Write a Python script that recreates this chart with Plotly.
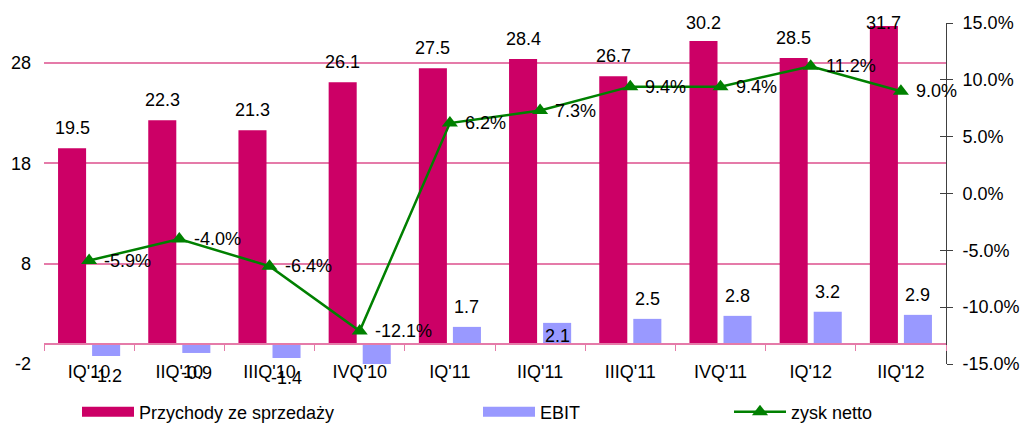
import plotly.graph_objects as go

quarters = ["IQ'10", "IIQ'10", "IIIQ'10", "IVQ'10", "IQ'11", "IIQ'11", "IIIQ'11", "IVQ'11", "IQ'12", "IIQ'12"]
przychody = [19.5, 22.3, 21.3, 26.1, 27.5, 28.4, 26.7, 30.2, 28.5, 31.7]
ebit = [-1.2, -0.9, -1.4, -2.4, 1.7, 2.1, 2.5, 2.8, 3.2, 2.9]
ebit_label_visible = [True, True, True, False, True, True, True, True, True, True]
zysk_netto = [-0.059, -0.040, -0.064, -0.121, 0.062, 0.073, 0.094, 0.094, 0.112, 0.090]

left_ticks = [-2, 8, 18, 28]
left_tick_labels = ["-2", "8", "18", "28"]
right_ticks = [-0.15, -0.10, -0.05, 0.0, 0.05, 0.10, 0.15]
right_tick_labels = ["-15.0%", "-10.0%", "-5.0%", "0.0%", "5.0%", "10.0%", "15.0%"]
left_range = [-2, 32]
right_range = [-0.15, 0.15]

# style
W, H = 1021, 423
ML, MR, MT, MB = 44, 75, 23, 59
FONT = "Liberation Sans, Arial, sans-serif"
FS = 18
C_BAR = "#CC0066"
C_EBIT = "#9999FF"
C_LINE = "#008000"
C_GRID = "#E57BA9"
BARGAP = 0.245
BARGROUPGAP = 0.176
LABEL_GAP = 20
ebit_label_shift_override = {"IIQ'11": -13}

plot_w = W - ML - MR
plot_h = H - MT - MB
step = plot_w / len(quarters)
bar_offset = step * (1 - BARGAP) / 4
px_per_unit = plot_h / (left_range[1] - left_range[0])


def fmt_num(v):
    return f"{v:.1f}"


def fmt_pct(v):
    return f"{v * 100:.1f}%"


fig = go.Figure()
fig.add_trace(go.Bar(x=quarters, y=przychody, name="Przychody ze sprzedaży",
                     marker=dict(color=C_BAR, line=dict(width=0)), showlegend=False))
fig.add_trace(go.Bar(x=quarters, y=ebit, name="EBIT",
                     marker=dict(color=C_EBIT, line=dict(width=0)), showlegend=False))
fig.add_trace(go.Scatter(x=quarters, y=zysk_netto, name="zysk netto", yaxis="y2",
                         mode="lines+markers", line=dict(color=C_LINE, width=2.5),
                         marker=dict(symbol="triangle-up", size=14, color=C_LINE),
                         legend="legend3"))
# legend swatches for bars
fig.add_trace(go.Scatter(x=[None], y=[None], mode="lines", name="Przychody ze sprzedaży",
                         line=dict(color=C_BAR, width=13), legend="legend"))
fig.add_trace(go.Scatter(x=[None], y=[None], mode="lines", name="EBIT",
                         line=dict(color=C_EBIT, width=13), legend="legend2"))
# invisible helper for the zero-line category axis
fig.add_trace(go.Scatter(x=quarters, y=zysk_netto, xaxis="x2", yaxis="y2", mode="lines",
                         line=dict(width=0), hoverinfo="skip", showlegend=False))
# helper for crossing ticks on right axis
fig.add_trace(go.Scatter(x=quarters, y=zysk_netto, yaxis="y3", mode="lines",
                         line=dict(width=0), hoverinfo="skip", showlegend=False))

annotations = []
for q, v in zip(quarters, przychody):
    top_space = (left_range[1] - v) * px_per_unit
    annotations.append(dict(x=q, y=v, xref="x", yref="y", text=fmt_num(v), showarrow=False,
                            xshift=-bar_offset, yshift=min(LABEL_GAP, top_space),
                            xanchor="center", yanchor="middle", font=dict(size=FS, color="black")))
for q, v, vis in zip(quarters, ebit, ebit_label_visible):
    if not vis:
        continue
    shift = ebit_label_shift_override.get(q, LABEL_GAP if v >= 0 else -LABEL_GAP)
    annotations.append(dict(x=q, y=v, xref="x", yref="y", text=fmt_num(v), showarrow=False,
                            xshift=bar_offset, yshift=shift,
                            xanchor="center", yanchor="middle", font=dict(size=FS, color="black")))
for q, v in zip(quarters, zysk_netto):
    annotations.append(dict(x=q, y=v, xref="x", yref="y2", text=fmt_pct(v), showarrow=False,
                            xshift=13, xanchor="left", yanchor="middle",
                            font=dict(size=FS, color="black")))

zero_pos = (0 - left_range[0]) / (left_range[1] - left_range[0])

legend_common = dict(orientation="h", xref="container", yref="container", yanchor="middle",
                     y=1 - 412 / H, itemwidth=52,
                     font=dict(size=FS, color="black", family=FONT), bgcolor="rgba(0,0,0,0)",
                     itemclick=False, traceorder="normal", borderwidth=0)
fig.update_layout(
    width=W, height=H,
    margin=dict(l=ML, r=MR, t=MT, b=MB, pad=0, autoexpand=False),
    paper_bgcolor="white", plot_bgcolor="white",
    font=dict(family=FONT, size=FS, color="black"),
    barmode="group", bargap=BARGAP, bargroupgap=BARGROUPGAP,
    xaxis=dict(type="category", categoryarray=quarters, range=[-0.5, len(quarters) - 0.5],
               showgrid=False, showline=False, ticks="", zeroline=False, automargin=False,
               tickfont=dict(size=FS, color="black"), ticklabelstandoff=-5),
    xaxis2=dict(type="category", categoryarray=quarters, range=[-0.5, len(quarters) - 0.5],
                overlaying="x", anchor="free", position=zero_pos, side="bottom", automargin=False,
                showline=True, linecolor=C_GRID, linewidth=2, showgrid=False, zeroline=False,
                ticks="outside", tickson="boundaries", ticklen=6, tickcolor=C_GRID, tickwidth=1,
                showticklabels=False),
    yaxis=dict(range=left_range, tickvals=left_ticks, ticktext=left_tick_labels,
               showgrid=True, gridcolor=C_GRID, gridwidth=2, automargin=False,
               zeroline=False, showline=False, ticks="", tickfont=dict(size=FS, color="black"),
               ticklabelstandoff=12),
    yaxis2=dict(range=right_range, overlaying="y", side="right", anchor="x",
                tickvals=right_ticks, ticktext=right_tick_labels, automargin=False,
                showgrid=False, zeroline=False, showline=True, linecolor="#404040",
                linewidth=1, ticks="outside", ticklen=6, tickcolor="#404040",
                tickfont=dict(size=FS, color="black"), ticklabelstandoff=6),
    yaxis3=dict(range=right_range, overlaying="y", side="right", anchor="x", automargin=False,
                tickvals=right_ticks, showgrid=False, zeroline=False, showline=False,
                ticks="inside", ticklen=6, tickcolor="#404040", showticklabels=False),
    legend=dict(x=77 / W, xanchor="left", **legend_common),
    legend2=dict(x=478 / W, xanchor="left", **legend_common),
    legend3=dict(x=729 / W, xanchor="left", **legend_common),
    annotations=annotations,
    showlegend=True,
)

fig.write_html("out.html")
